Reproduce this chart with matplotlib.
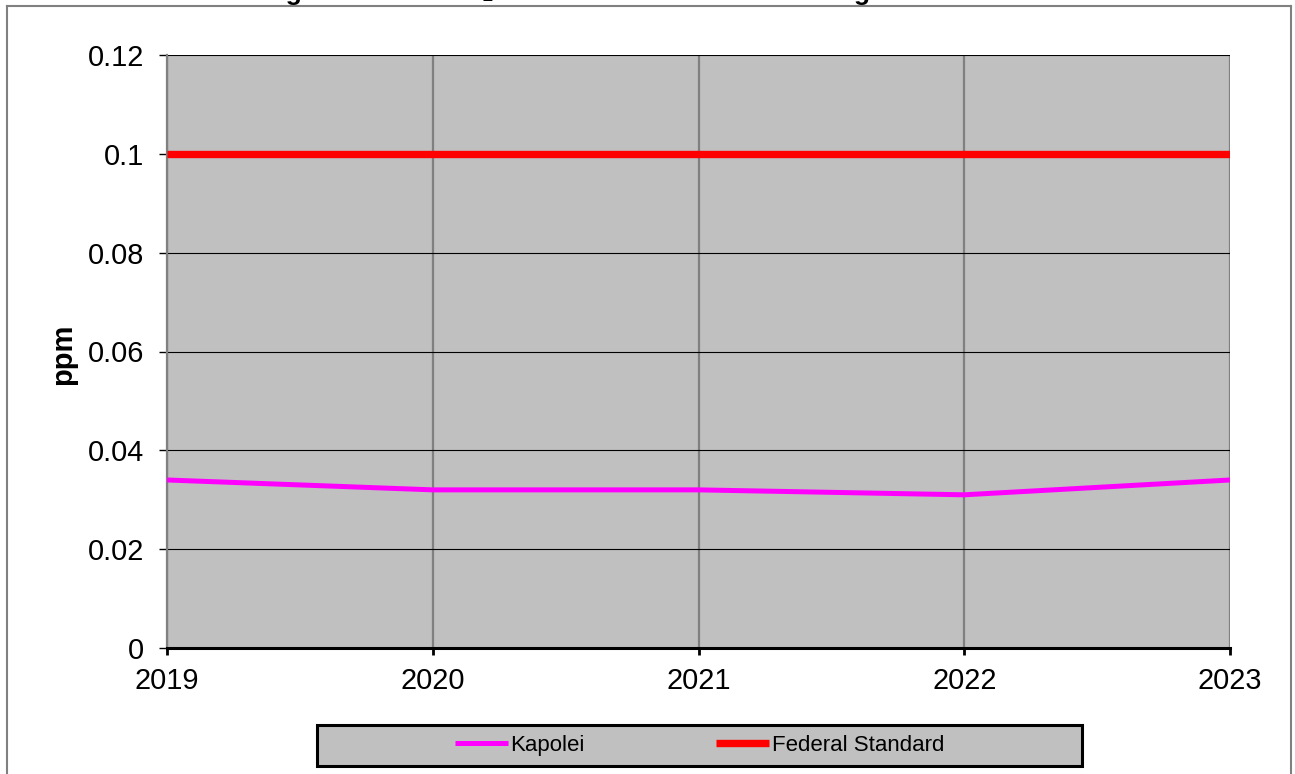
import matplotlib
matplotlib.use("Agg")
import matplotlib.pyplot as plt
from matplotlib.patches import Rectangle
from matplotlib.lines import Line2D

plt.rcParams['font.family'] = ['Liberation Sans', 'DejaVu Sans']

years = [2019, 2020, 2021, 2022, 2023]
kapolei = [0.034, 0.032, 0.032, 0.031, 0.034]
federal_standard = [0.1, 0.1, 0.1, 0.1, 0.1]
y_ticks = [0, 0.02, 0.04, 0.06, 0.08, 0.1, 0.12]
y_tick_labels = ['0', '0.02', '0.04', '0.06', '0.08', '0.1', '0.12']
title = "Nitrogen Dioxide NO\u2082 98th Percentile 3-Year Average"

W, H = 1295, 774
fig = plt.figure(figsize=(W / 100, H / 100), dpi=100)

def fx(px):
    return px / W

def fy(py):
    return 1 - py / H

# outer chart frame
for xs, ys in [([7, 7], [6, H + 5]), ([7, 1291], [6, 6]), ([1291, 1291], [6, H + 5])]:
    fig.add_artist(Line2D([fx(x) for x in xs], [fy(y) for y in ys],
                          color='#808080', lw=1.5, transform=fig.transFigure))

# title (cropped at the top in the reference)
fig.text(fx(554), fy(0), title, ha='center', va='baseline', fontsize=19,
         fontweight='bold', color='black')

ax = fig.add_axes([fx(167), fy(648), fx(1230) - fx(167), fy(55) - fy(648)])
ax.set_facecolor('#C0C0C0')

ax.plot(years, kapolei, color='#FF00FF', lw=3.6, label='Kapolei', zorder=4,
        solid_capstyle='butt')
ax.plot(years, federal_standard, color='#FF0000', lw=5.3, label='Federal Standard',
        zorder=5, solid_capstyle='butt')

ax.set_xlim(years[0], years[-1])
ax.set_ylim(0, 0.12)
ax.set_xticks(years)
ax.set_xticklabels([str(y) for y in years])
ax.set_yticks(y_ticks)
ax.set_yticklabels(y_tick_labels)

ax.grid(axis='y', color='black', lw=0.8, zorder=1)
ax.grid(axis='x', color='#808080', lw=1.6, zorder=1)
ax.set_axisbelow(True)

ax.spines['top'].set_visible(False)
ax.spines['right'].set_visible(False)
ax.spines['left'].set_color('#808080')
ax.spines['left'].set_linewidth(1.6)
ax.spines['bottom'].set_color('black')
ax.spines['bottom'].set_linewidth(2.2)
ax.spines['bottom'].set_zorder(6)

ax.tick_params(axis='y', direction='out', length=6, width=1, color='black',
               labelsize=20.8, pad=10.5)
ax.tick_params(axis='x', direction='out', length=5, width=2, color='black',
               labelsize=20.8, pad=9)

fig.text(fx(63), fy(354), 'ppm', rotation=90, ha='center', va='center',
         fontsize=21, fontweight='bold')

# legend box
fig.add_artist(Rectangle((fx(317), fy(766)), fx(1082) - fx(317), fy(725) - fy(766),
                         transform=fig.transFigure, facecolor='#C0C0C0',
                         edgecolor='black', lw=2.2, zorder=0))
handles, labels = ax.get_legend_handles_labels()
leg = fig.legend(handles, labels, loc='center', bbox_to_anchor=(fx(699.5), fy(745.5)),
                 ncol=2, frameon=False, fontsize=16, handlelength=2.4,
                 handletextpad=0.1, columnspacing=5.9, borderpad=0)

fig.savefig('out.png', dpi=100)
